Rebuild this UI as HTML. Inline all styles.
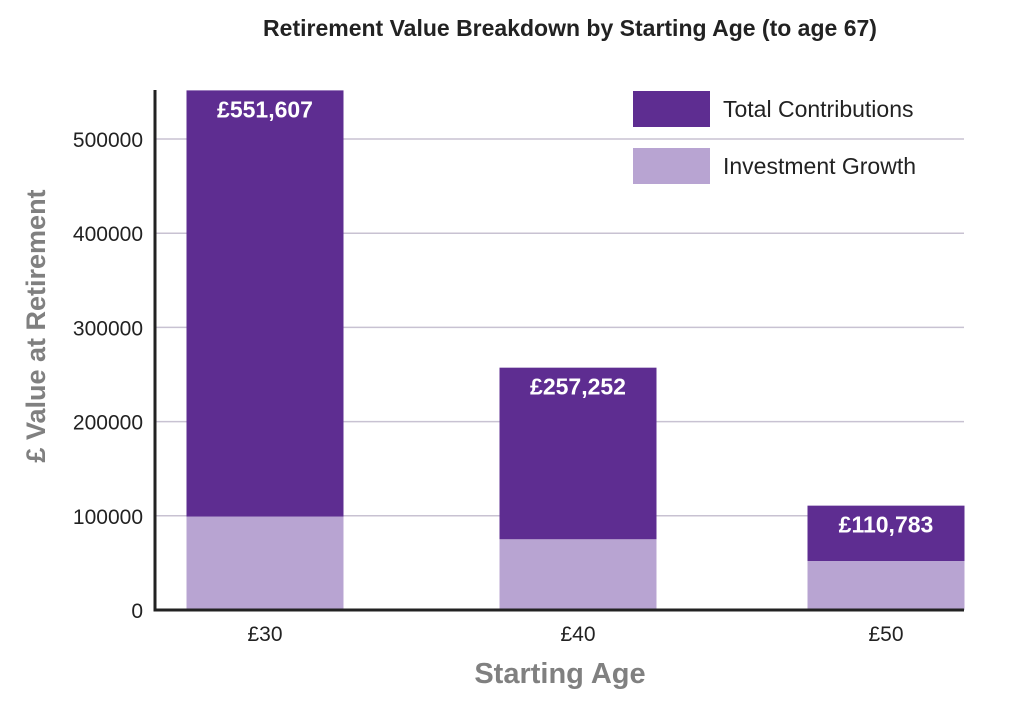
<!DOCTYPE html>
<html><head><meta charset="utf-8"><style>
body{margin:0;background:#fff;font-family:"Liberation Sans",sans-serif}
svg text{font-family:"Liberation Sans",sans-serif}
</style></head><body>
<svg width="1024" height="699" viewBox="0 0 1024 699">
<text x="570" y="36" text-anchor="middle" font-size="23" font-weight="bold" fill="#222">Retirement Value Breakdown by Starting Age (to age 67)</text>
<g id="grid"></g>
<g id="bars"></g>
<g id="axes"></g>
<text transform="translate(45,326) rotate(-90)" text-anchor="middle" font-size="27" font-weight="bold" fill="#808080">£ Value at Retirement</text>
<text x="560" y="683" text-anchor="middle" font-size="29" font-weight="bold" fill="#808080">Starting Age</text>
<g>
<rect x="633" y="91" width="77" height="36" fill="#5e2d91"/>
<text x="723" y="117" font-size="23" fill="#222">Total Contributions</text>
<rect x="633" y="148" width="77" height="36" fill="#b8a4d2"/>
<text x="723" y="174" font-size="23" fill="#222">Investment Growth</text>
</g>
</svg>
<script>
const categories=["£30","£40","£50"];
const totals=[551607,257252,110783];
const lowerValues=[99000,75000,52000];
const totalLabels=["£551,607","£257,252","£110,783"];
const yTicks=[0,100000,200000,300000,400000,500000];
const NS="http://www.w3.org/2000/svg";
const x0=155,x1=964,yb=610,pxPer=471/500000;
const y=v=>yb-v*pxPer;
const xc=i=>265+i*(965-265)/(categories.length-1)*0+[265,578,886][i];
function mk(t,a,p){const e=document.createElementNS(NS,t);for(const k in a)e.setAttribute(k,a[k]);p.appendChild(e);return e;}
const grid=document.getElementById('grid'),bars=document.getElementById('bars'),axes=document.getElementById('axes');
yTicks.forEach(v=>{
 if(v>0){const l=mk('line',{x1:x0,x2:x1,y1:y(v),y2:y(v),stroke:'#c8c2d2','stroke-width':1.5},grid);
 
 }
 const t=mk('text',{x:143,y:y(v)+8,'text-anchor':'end','font-size':21,fill:'#222'},axes);t.textContent=v;
 
 
});
const bw=157;
categories.forEach((c,i)=>{
 const cx=[265,578,886][i];
 const g=mk('g',{},bars);
 
 
 const top=mk('rect',{x:cx-bw/2,y:y(totals[i]),width:bw,height:y(lowerValues[i])-y(totals[i]),fill:'#5e2d91'},g);
 
 
 const low=mk('rect',{x:cx-bw/2,y:y(lowerValues[i]),width:bw,height:yb-y(lowerValues[i]),fill:'#b8a4d2'},g);
 
 
 const lb=mk('text',{x:cx,y:y(totals[i])+27,'text-anchor':'middle','font-size':23,'font-weight':'bold',fill:'#fff'},g);lb.textContent=totalLabels[i];
 
 
 const xt=mk('text',{x:cx,y:641,'text-anchor':'middle','font-size':21,fill:'#222'},axes);xt.textContent=c;
 
 
});
const ya=mk('line',{x1:x0,x2:x0,y1:90,y2:yb+1.5,stroke:'#222','stroke-width':3},axes);


const xa=mk('line',{x1:x0-1.5,x2:x1,y1:yb,y2:yb,stroke:'#222','stroke-width':3},axes);


</script>
</body></html>
